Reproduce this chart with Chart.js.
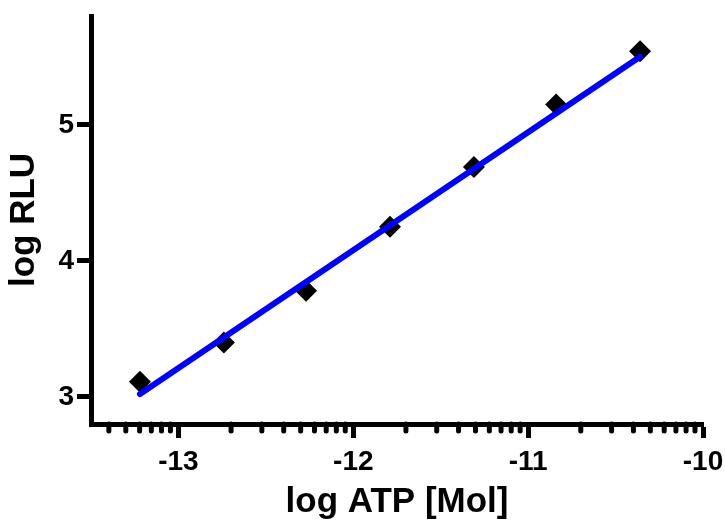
<!DOCTYPE html>
<html>
<head>
<meta charset="utf-8">
<script src="https://cdn.jsdelivr.net/npm/chart.js@4.4.1/dist/chart.umd.min.js"></script>
<style>
   html, body { margin: 0; padding: 0; background: #fff; }
   #wrap { width: 725px; height: 523px; }
</style>
</head>
<body>
<div id="wrap"><canvas id="atpChart"></canvas></div>
<script>
// measured standards (log ATP vs log RLU)
const logAtp = [-13.22, -12.74, -12.27, -11.79, -11.31, -10.84, -10.36];
const logRlu = [3.11, 3.40, 3.78, 4.25, 4.69, 5.15, 5.54];
// ends of the fitted line
const fitAtp = [-13.22, -10.36];
const fitRlu = [3.02, 5.50];
// tick labels
const xTicks = [-13, -12, -11, -10];
const yTicks = [3, 4, 5];
// minor ticks inside each decade (log spacing)
const minorSteps = [2, 3, 4, 5, 6, 7, 8, 9];

const FONT = "'Liberation Sans', Arial, sans-serif";

// draws the short log-style minor ticks under the x axis
const minorTickPlugin = {
   id: 'minorTicks',
   afterDraw(chart) {
      const xs = chart.scales.x;
      const ctx = chart.ctx;
      ctx.save();
      ctx.strokeStyle = '#000';
      ctx.lineWidth = 5;
      ctx.lineCap = 'round';
      for (let d = Math.floor(xs.min); d < xs.max; d++) {
         minorSteps.forEach(k => {
            const v = d + Math.log10(k);
            if (v < xs.min || v > xs.max) return;
            const px = xs.getPixelForValue(v);
            ctx.beginPath();
            ctx.moveTo(px, xs.top);
            ctx.lineTo(px, xs.top + 7);
            ctx.stroke();
         });
      }
      ctx.restore();
   }
};

// keep the plot area fixed: no extra room for overhanging labels
function noLabelPadding(s) {
   s.paddingLeft = 0;
   s.paddingRight = 0;
   s.paddingTop = 0;
   s.paddingBottom = 0;
}

const ctx = document.getElementById('atpChart').getContext('2d');
new Chart(ctx, {
   type: 'scatter',
   data: {
      datasets: [{
         label: 'Standards',
         data: logAtp.map((x, i) => ({ x: x, y: logRlu[i] })),
         pointStyle: 'rectRot',
         pointRadius: 11,
         pointHoverRadius: 11,
         backgroundColor: '#000',
         borderColor: '#000',
         borderWidth: 0,
         showLine: false,
         order: 2
      }, {
         label: 'Fit',
         data: fitAtp.map((x, i) => ({ x: x, y: fitRlu[i] })),
         showLine: true,
         borderColor: '#0000ff',
         borderWidth: 6,
         borderCapStyle: 'round',
         pointRadius: 0,
         pointHoverRadius: 0,
         fill: false,
         order: 1
      }]
   },
   options: {
      responsive: true,
      maintainAspectRatio: false,
      animation: false,
      layout: {
         padding: { top: 16, right: 22, bottom: 0, left: 0 }
      },
      plugins: {
         legend: { display: false },
         tooltip: { enabled: false }
      },
      scales: {
         x: {
            type: 'linear',
            position: 'bottom',
            min: -13.5,
            max: -10,
            afterBuildTicks: s => { s.ticks = xTicks.map(v => ({ value: v })); },
            afterFit: s => { s.height = 99; noLabelPadding(s); },
            border: { color: '#000', width: 5 },
            grid: {
               drawOnChartArea: false,
               drawTicks: true,
               tickLength: 14,
               tickWidth: 5,
               tickColor: '#000'
            },
            ticks: {
               color: '#000',
               padding: 7,
               maxRotation: 0,
               autoSkip: false,
               font: { family: FONT, size: 28, weight: 'bold' }
            },
            title: {
               display: true,
               text: 'log ATP [Mol]',
               color: '#000',
               font: { family: FONT, size: 35, weight: 'bold', lineHeight: 1 },
               padding: { top: 0, bottom: 3 }
            }
         },
         y: {
            type: 'linear',
            min: 2.8,
            max: 5.8,
            afterBuildTicks: s => { s.ticks = yTicks.map(v => ({ value: v })); },
            afterFit: s => { s.width = 91; noLabelPadding(s); },
            border: { color: '#000', width: 5 },
            grid: {
               drawOnChartArea: false,
               drawTicks: true,
               tickLength: 14,
               tickWidth: 5,
               tickColor: '#000'
            },
            ticks: {
               color: '#000',
               padding: 3,
               font: { family: FONT, size: 28, weight: 'bold' }
            },
            title: {
               display: true,
               text: 'log RLU',
               color: '#000',
               font: { family: FONT, size: 35, weight: 'bold', lineHeight: 1 },
               padding: { top: 7, bottom: 0 }
            }
         }
      }
   },
   plugins: [minorTickPlugin]
});
</script>
</body>
</html>
